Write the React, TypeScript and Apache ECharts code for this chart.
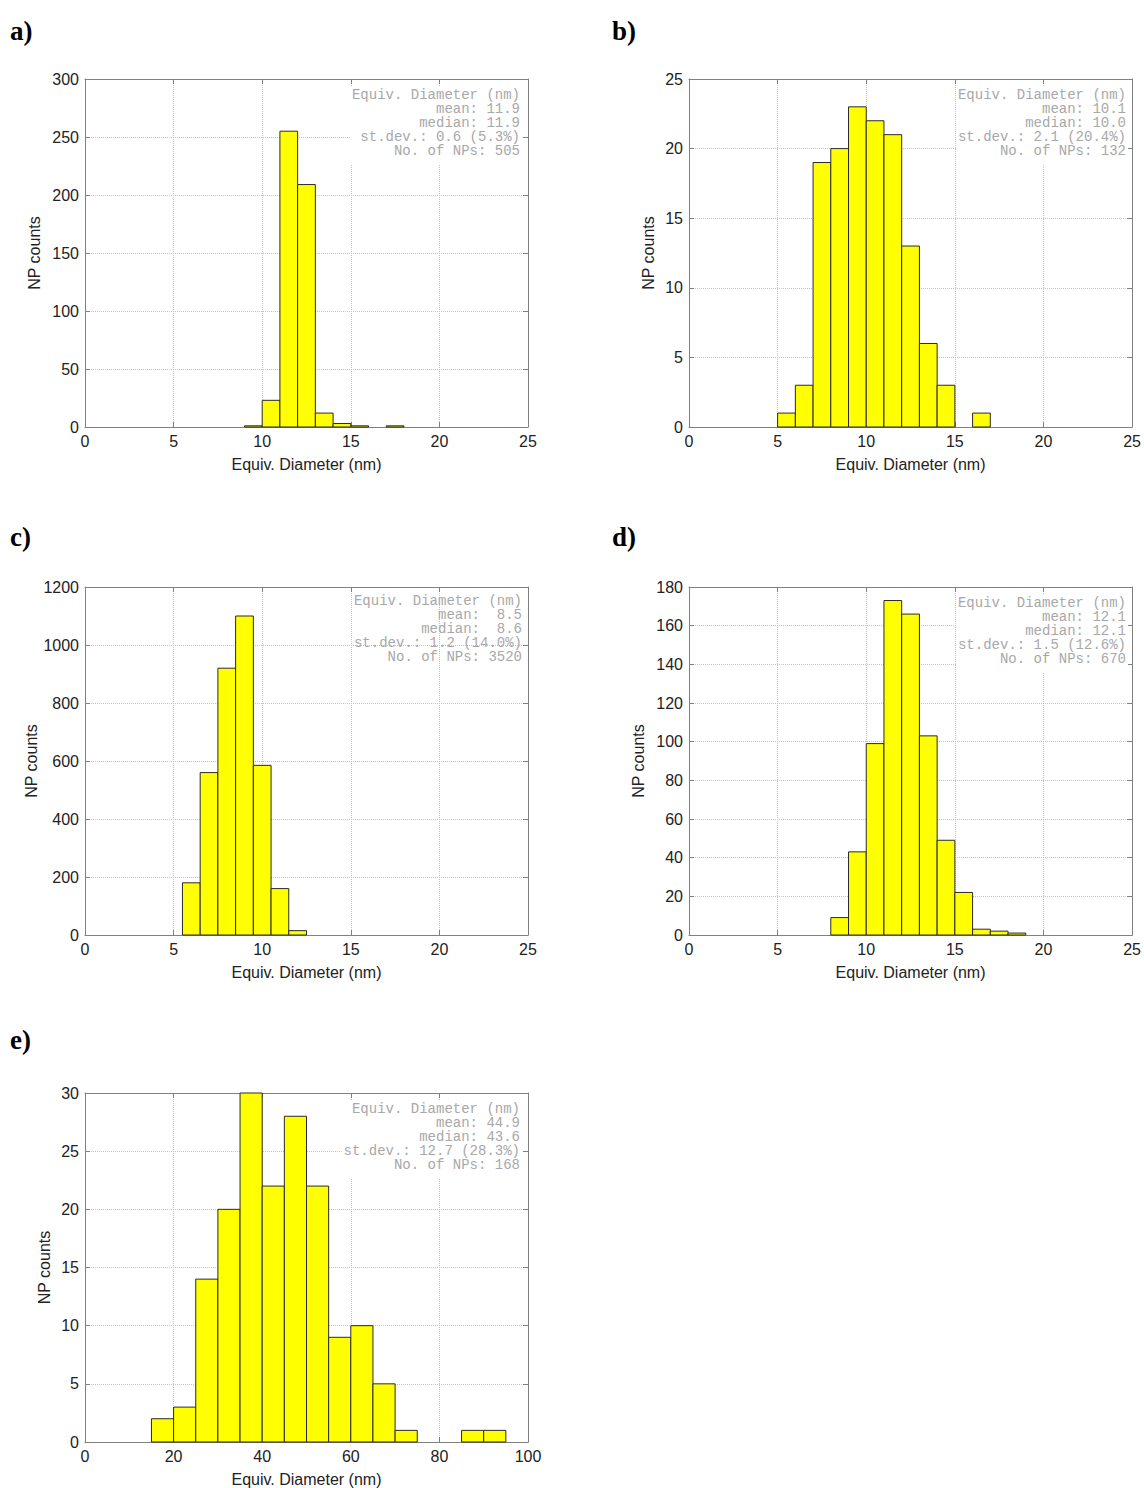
import React, { useEffect, useRef } from "react";
import * as echarts from "echarts";

// ---- Data ----
const aStart = 9;
const aBin = 1;
const aCounts = [1, 23, 255, 209, 12, 3, 1, 0, 1];

const bStart = 5;
const bBin = 1;
const bCounts = [1, 3, 19, 20, 23, 22, 21, 13, 6, 3, 0, 1];

const cStart = 5.5;
const cBin = 1;
const cCounts = [180, 560, 920, 1100, 585, 160, 15];

const dStart = 8;
const dBin = 1;
const dCounts = [9, 43, 99, 173, 166, 103, 49, 22, 3, 2, 1];

const eStart = 15;
const eBin = 5;
const eCounts = [2, 3, 14, 20, 30, 22, 28, 22, 9, 10, 5, 1, 0, 0, 1, 1];

const panelLabels = ["a)", "b)", "c)", "d)", "e)"];
const xAxisName = "Equiv. Diameter (nm)";
const yAxisName = "NP counts";

const statsA = ["Equiv. Diameter (nm)", "mean: 11.9", "median: 11.9", "st.dev.: 0.6 (5.3%)", "No. of NPs: 505"];
const statsB = ["Equiv. Diameter (nm)", "mean: 10.1", "median: 10.0", "st.dev.: 2.1 (20.4%)", "No. of NPs: 132"];
const statsC = ["Equiv. Diameter (nm)", "mean:  8.5", "median:  8.6", "st.dev.: 1.2 (14.0%)", "No. of NPs: 3520"];
const statsD = ["Equiv. Diameter (nm)", "mean: 12.1", "median: 12.1", "st.dev.: 1.5 (12.6%)", "No. of NPs: 670"];
const statsE = ["Equiv. Diameter (nm)", "mean: 44.9", "median: 43.6", "st.dev.: 12.7 (28.3%)", "No. of NPs: 168"];

// ---- Layout ----
type Panel = {
  start: number; bin: number; counts: number[];
  xMax: number; xInt: number; yMax: number; yInt: number;
  left: number; top: number; width: number; height: number;
  yNameGap: number; stats: string[]; statsBg: boolean;
  labelX: number; labelY: number;
};

const panels: Panel[] = [
  { start: aStart, bin: aBin, counts: aCounts, xMax: 25, xInt: 5, yMax: 300, yInt: 50,
    left: 85, top: 79, width: 443, height: 348, yNameGap: 43, stats: statsA, statsBg: true, labelX: 10, labelY: 31 },
  { start: bStart, bin: bBin, counts: bCounts, xMax: 25, xInt: 5, yMax: 25, yInt: 5,
    left: 689, top: 79, width: 445, height: 348, yNameGap: 33, stats: statsB, statsBg: true, labelX: 612, labelY: 31 },
  { start: cStart, bin: cBin, counts: cCounts, xMax: 25, xInt: 5, yMax: 1200, yInt: 200,
    left: 85, top: 587, width: 443, height: 348, yNameGap: 43, stats: statsC, statsBg: false, labelX: 10, labelY: 537 },
  { start: dStart, bin: dBin, counts: dCounts, xMax: 25, xInt: 5, yMax: 180, yInt: 20,
    left: 689, top: 587, width: 445, height: 348, yNameGap: 43, stats: statsD, statsBg: true, labelX: 612, labelY: 537 },
  { start: eStart, bin: eBin, counts: eCounts, xMax: 100, xInt: 20, yMax: 30, yInt: 5,
    left: 85, top: 1093, width: 443, height: 349, yNameGap: 33, stats: statsE, statsBg: true, labelX: 10, labelY: 1040 },
];

const FRAME = "#808080";
const LABEL = "#222222";
const SANS = '"Liberation Sans", Arial, sans-serif';

function buildOption() {
  const grid: any[] = [];
  const xAxis: any[] = [];
  const yAxis: any[] = [];
  const series: any[] = [];
  const graphic: any[] = [];

  panels.forEach((p, i) => {
    grid.push({ left: p.left, top: p.top, width: p.width, height: p.height, containLabel: false });
    const tick = { show: true, inside: true, length: 5, lineStyle: { color: FRAME } };
    const line = { show: true, onZero: false, lineStyle: { color: FRAME, width: 1 } };
    const fmt = (v: number) => String(v);
    xAxis.push({
      type: "value", gridIndex: i, min: 0, max: p.xMax, interval: p.xInt, position: "bottom",
      axisLine: line, axisTick: tick,
      axisLabel: { color: LABEL, fontSize: 16, fontFamily: SANS, margin: 6, formatter: fmt },
      splitLine: { show: true, lineStyle: { type: "dotted", color: "#c4c4c4" } },
      name: xAxisName, nameLocation: "middle", nameGap: 29,
      nameTextStyle: { color: LABEL, fontSize: 16, fontFamily: SANS },
    });
    xAxis.push({
      type: "value", gridIndex: i, min: 0, max: p.xMax, interval: p.xInt, position: "top",
      axisLine: line, axisTick: tick, axisLabel: { show: false }, splitLine: { show: false },
    });
    yAxis.push({
      type: "value", gridIndex: i, min: 0, max: p.yMax, interval: p.yInt, position: "left",
      axisLine: line, axisTick: tick,
      axisLabel: { color: LABEL, fontSize: 16, fontFamily: SANS, margin: 6, formatter: fmt },
      splitLine: { show: true, lineStyle: { type: "dotted", color: "#c4c4c4" } },
      name: yAxisName, nameLocation: "middle", nameGap: p.yNameGap,
      nameTextStyle: { color: LABEL, fontSize: 16, fontFamily: SANS },
    });
    yAxis.push({
      type: "value", gridIndex: i, min: 0, max: p.yMax, interval: p.yInt, position: "right",
      axisLine: line, axisTick: tick, axisLabel: { show: false }, splitLine: { show: false },
    });

    const data = p.counts.map((c, k) => [p.start + k * p.bin, p.start + (k + 1) * p.bin, c]);
    series.push({
      type: "custom",
      xAxisIndex: 2 * i,
      yAxisIndex: 2 * i,
      data,
      encode: { x: [0, 1], y: 2 },
      z: 3,
      renderItem: (params: any, api: any) => {
        const v = api.value(2);
        if (!v) return null;
        const p0 = api.coord([api.value(0), 0]);
        const p1 = api.coord([api.value(1), v]);
        return {
          type: "rect",
          shape: { x: p0[0], y: p1[1], width: p1[0] - p0[0], height: p0[1] - p1[1] },
          style: { fill: "#ffff00", stroke: "#2a2a2a", lineWidth: 1 },
        };
      },
    });

    graphic.push({
      type: "text", x: p.labelX, y: p.labelY, z: 100,
      style: { text: panelLabels[i], font: 'bold 27px "Liberation Serif", "Times New Roman", serif', fill: "#000", verticalAlign: "middle", align: "left" },
    });
    const st: any = {
      text: p.stats.join("\n"),
      font: '14px "Liberation Mono", "Courier New", monospace',
      fill: "#a8a8a8",
      align: "right",
      verticalAlign: "top",
      lineHeight: 14,
    };
    if (p.statsBg) {
      st.backgroundColor = "#ffffff";
      st.padding = [2, 2, 6, 2];
    }
    graphic.push({
      type: "text", x: p.left + p.width - 6, y: p.top + 7, z: 100,
      style: st,
    });
  });

  return {
    animation: false,
    backgroundColor: "#ffffff",
    grid,
    xAxis,
    yAxis,
    series,
    graphic,
  };
}

export default function App() {
  const ref = useRef<HTMLDivElement>(null);
  useEffect(() => {
    if (!ref.current) return;
    const chart = echarts.init(ref.current, undefined, { renderer: "svg" });
    chart.setOption(buildOption() as any);
    return () => chart.dispose();
  }, []);
  return (
    <div
      ref={ref}
      style={{ position: "absolute", left: 0, top: 0, width: 1144, height: 1488, background: "#fff" }}
    />
  );
}
